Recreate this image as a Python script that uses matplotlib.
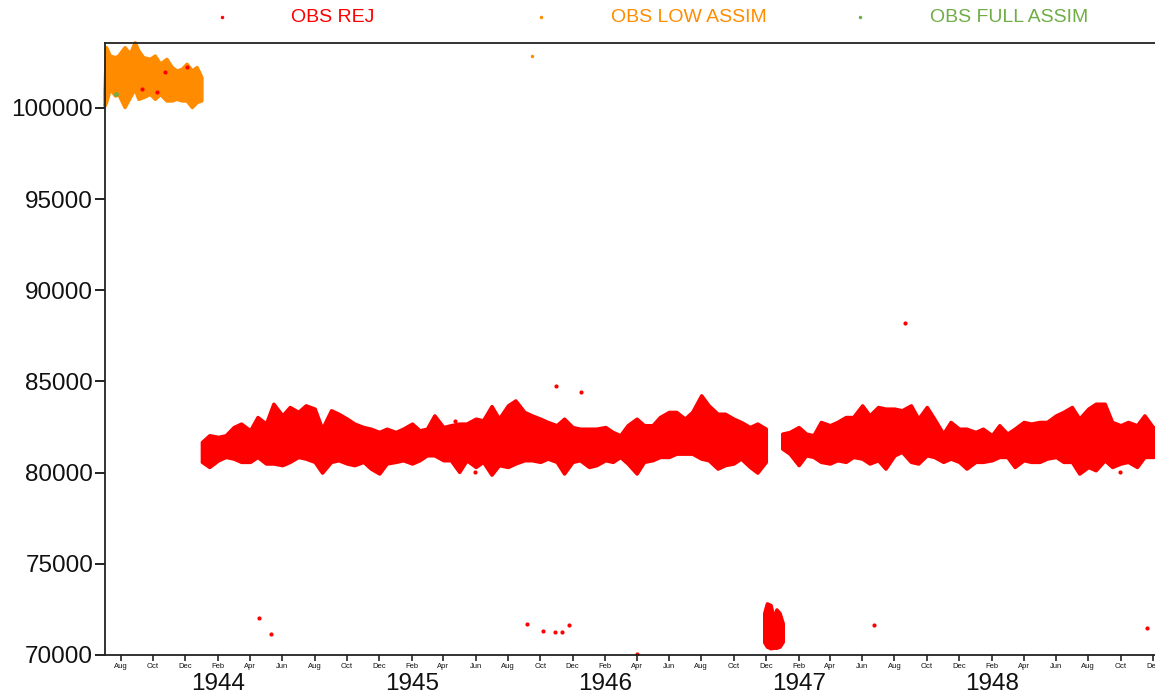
import numpy as np
import pandas as pd
import matplotlib
matplotlib.use("Agg")
import matplotlib.pyplot as plt
import matplotlib.dates as mdates
from matplotlib.lines import Line2D

plt.rcParams['font.family'] = ['Liberation Sans', 'DejaVu Sans']

RED = '#ff0000'
ORANGE = '#ff8c00'
GREEN = '#70ad47'

# rejected obs, dense band (semi-monthly upper / lower envelope, Pa)
band_a_dates = pd.date_range('1944-01-01', '1946-12-01', freq='SMS')
band_a_top = [81680, 82050, 81960, 82050, 82500, 82690, 82320, 83050, 82690, 83780, 83140, 83600,
              83330, 83690, 83510, 82410, 83420, 83230, 82960, 82690, 82500, 82410, 82230, 82410,
              82230, 82410, 82690, 82320, 82410, 83140, 82500, 82600, 82690, 82690, 82960, 82870,
              83650, 82960, 83690, 83960, 83330, 83140, 82960, 82780, 82600, 82960, 82500, 82410,
              82410, 82410, 82500, 82230, 82050, 82600, 82960, 82600, 82600, 83050, 83330, 83330,
              82960, 83330, 84240, 83690, 83230, 83230, 82960, 82780, 82500, 82690, 82410]
band_a_bot = [80590, 80310, 80680, 80860, 80770, 80590, 80590, 80860, 80500, 80500, 80410, 80590,
              80860, 80770, 80590, 80000, 80590, 80680, 80500, 80410, 80590, 80220, 79950, 80500,
              80590, 80680, 80500, 80680, 80950, 80950, 80680, 80680, 80040, 80680, 80310, 80590,
              79890, 80410, 80310, 80500, 80680, 80680, 80590, 80770, 80590, 79950, 80590, 80680,
              80310, 80410, 80680, 80590, 80860, 80500, 79950, 80590, 80680, 80860, 80860, 81040,
              81040, 81040, 80770, 80680, 80220, 80410, 80500, 80770, 80310, 80000, 80590]

band_b_dates = pd.date_range('1947-01-01', '1948-12-15', freq='SMS')
band_b_top = [82140, 82230, 82500, 82140, 82050, 82780, 82600, 82780, 83050, 83050, 83690, 83140,
              83600, 83510, 83510, 83420, 83690, 82960, 83600, 82960, 82140, 82780, 82410, 82410,
              82230, 82410, 82050, 82600, 82140, 82410, 82780, 82690, 82780, 82780, 83140, 83330,
              83600, 82960, 83510, 83780, 83780, 82780, 82600, 82780, 82600, 83140, 82500, 82410]
band_b_bot = [81320, 81040, 80410, 80950, 80860, 80590, 80500, 80680, 80590, 80860, 80770, 80500,
              80680, 80220, 80950, 81140, 80590, 80500, 80950, 80860, 80590, 80770, 80590, 80220,
              80590, 80590, 80680, 80860, 80860, 80310, 80680, 80590, 80590, 80770, 80860, 80590,
              80590, 79950, 80310, 80130, 80680, 80310, 80500, 80590, 80310, 80860, 80860, 80950]

# rejected obs, low cluster around Dec 1946
low_dates = ['1946-11-28', '1946-12-03', '1946-12-10', '1946-12-16', '1946-12-21', '1946-12-27', '1947-01-02']
low_top = [72300, 72830, 72740, 72000, 72500, 72300, 71740]
low_bot = [70700, 70460, 70370, 70400, 70400, 70460, 70730]

# rejected obs, isolated points
rej_dates = ['1944-04-17', '1944-05-11', '1945-09-06', '1945-10-06', '1945-10-28', '1945-11-12',
             '1945-11-24', '1946-04-01', '1947-06-23', '1948-11-20', '1945-10-30', '1945-12-17',
             '1947-08-20', '1945-04-23', '1948-09-30', '1945-05-30',
             '1943-12-03', '1943-09-09', '1943-10-08', '1943-10-23']
rej_vals = [72030, 71130, 71700, 71300, 71240, 71260, 71660, 70060, 71620, 71500, 84730, 84400,
            88180, 82810, 80020, 80020,
            102240, 101050, 100880, 101980]

# low assim obs (envelope, Pa)
lowa_dates = ['1943-07-01', '1943-07-04', '1943-07-11', '1943-07-21', '1943-07-27', '1943-08-08',
              '1943-08-18', '1943-08-27', '1943-09-03', '1943-09-12', '1943-09-25', '1943-10-04',
              '1943-10-14', '1943-10-26', '1943-11-05', '1943-11-14', '1943-11-24', '1943-12-03',
              '1943-12-13', '1943-12-22', '1943-12-31']
lowa_top = [100900, 103330, 102870, 102780, 102870, 103330, 102970, 103600, 103150, 102780, 102690,
            102870, 102420, 102690, 102240, 102050, 102140, 102420, 102050, 102240, 101690]
lowa_bot = [100130, 100320, 101050, 100680, 100770, 100050, 100590, 101050, 100500, 100590, 100770,
            100500, 100770, 100410, 100410, 100500, 100410, 100410, 100050, 100320, 100410]
lowa_pt_dates = ['1945-09-15']
lowa_pt_vals = [102860]

# full assim obs
full_dates = ['1943-07-22']
full_vals = [100770]

legend_labels = ['OBS REJ', 'OBS LOW ASSIM', 'OBS FULL ASSIM']

fig = plt.figure(figsize=(11.55, 6.95), dpi=100)
ax = fig.add_axes([105 / 1155, 40 / 695, 1 - 105 / 1155, 612 / 695])

# orange first, then red and green on top
ax.fill_between(pd.to_datetime(lowa_dates), lowa_bot, lowa_top, color=ORANGE, lw=2.5, clip_on=False)
ax.plot(pd.to_datetime(lowa_pt_dates), lowa_pt_vals, 'o', color=ORANGE, ms=2.5, mew=0)

for d, lo, hi in [(band_a_dates, band_a_bot, band_a_top), (band_b_dates, band_b_bot, band_b_top),
                  (pd.to_datetime(low_dates), low_bot, low_top)]:
    ax.fill_between(d, lo, hi, color=RED, lw=2.5)
ax.plot(pd.to_datetime(rej_dates), rej_vals, 'o', color=RED, ms=3, mew=0)
ax.plot(pd.to_datetime(full_dates), full_vals, 'o', color=GREEN, ms=3.5, mew=0)

ax.set_xlim(pd.Timestamp('1943-07-02'), pd.Timestamp('1948-12-05'))
ax.set_ylim(70000, 103560)
ax.set_yticks(np.arange(70000, 100001, 5000))
ax.tick_params(axis='y', labelsize=17.5, length=7.5, width=1.3, pad=1, colors='#111')

ax.xaxis.set_major_locator(mdates.MonthLocator(bymonth=[2, 4, 6, 8, 10, 12]))
ax.xaxis.set_major_formatter(mdates.DateFormatter('%b'))
ax.tick_params(axis='x', labelsize=5.5, length=4, width=1.1, pad=2, colors='#111')

for yr in range(1944, 1949):
    ax.annotate(str(yr), xy=(pd.Timestamp(f'{yr}-02-01'), 0), xycoords=('data', 'axes fraction'),
                xytext=(0, -21), textcoords='offset points', ha='center', va='center',
                fontsize=17.5, color='#111', annotation_clip=False)

for s in ['left', 'bottom', 'top']:
    ax.spines[s].set_linewidth(1.3)
    ax.spines[s].set_color('#222')
ax.spines['right'].set_visible(False)

# legend across the top
for lab, col, mx, tx in zip(legend_labels, [RED, ORANGE, GREEN], [222, 541, 860], [291, 611, 930]):
    fig.add_artist(Line2D([mx / 1155], [1 - 17 / 695], marker='o', ms=2.5, mew=0, color=col,
                          transform=fig.transFigure))
    fig.text(tx / 1155, 1 - 17 / 695, lab, color=col, fontsize=14, ha='left', va='center')

fig.savefig('out.png', dpi=100)
